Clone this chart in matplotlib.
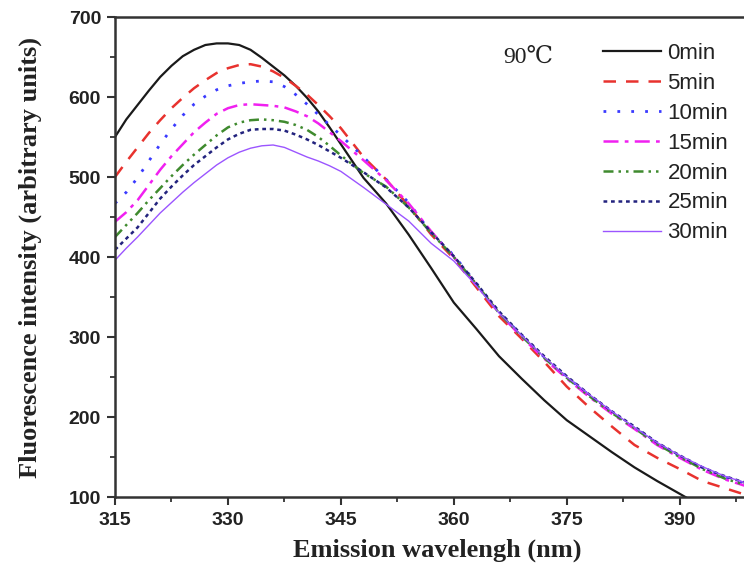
import matplotlib
matplotlib.use("Agg")
import matplotlib.pyplot as plt
from matplotlib.ticker import MultipleLocator

wavelength = [315, 316.5, 318, 319.5, 321, 322.5, 324, 325.5, 327, 328.5, 330, 331.5,
              333, 334.5, 336, 337.5, 339, 340.5, 342, 343.5, 345,
              348, 351, 354, 357, 360, 363, 366, 369, 372, 375, 378, 381, 384, 387,
              390, 393, 396, 399]

min0 = [550, 572, 590, 608, 625, 639, 651, 659, 665, 667, 667, 665,
        659, 649, 638, 627, 614, 599, 582, 562, 541,
        499, 467, 428, 386, 343, 310, 276, 248, 221, 196, 176, 156, 137, 120,
        104, 88, 74, 60]
min5 = [500, 519, 537, 555, 571, 586, 599, 611, 621, 630, 636, 640,
        641, 638, 632, 624, 614, 603, 590, 576, 561,
        525, 497, 464, 428, 398, 362, 326, 298, 269, 238, 212, 188, 165, 149,
        135, 120, 111, 102]
min10 = [467, 481, 499, 520, 541, 560, 577, 591, 601, 609, 614, 617,
         619, 620, 619, 613, 603, 591, 578, 565, 552,
         525, 497, 468, 430, 402, 367, 331, 302, 275, 250, 227, 206, 187, 167,
         151, 137, 125, 116]
min15 = [444, 456, 471, 490, 509, 526, 541, 556, 568, 579, 586, 590,
         591, 590, 589, 587, 582, 576, 567, 556, 545,
         521, 496, 467, 432, 400, 365, 330, 300, 273, 248, 225, 204, 185, 165,
         149, 134, 122, 113]
min20 = [425, 440, 455, 471, 486, 501, 515, 528, 540, 552, 562, 568,
         571, 572, 571, 569, 565, 559, 550, 539, 527,
         505, 488, 462, 430, 400, 366, 330, 301, 274, 249, 226, 205, 186, 166,
         150, 135, 123, 114]
min25 = [409, 423, 437, 455, 473, 488, 502, 515, 526, 537, 547, 554,
         559, 560, 560, 558, 553, 547, 540, 532, 524,
         506, 487, 462, 431, 401, 367, 332, 303, 276, 251, 228, 207, 188, 168,
         152, 137, 126, 117]
min30 = [396, 411, 425, 440, 455, 468, 481, 493, 504, 515, 524, 531,
         536, 539, 540, 537, 531, 525, 520, 514, 507,
         487, 466, 445, 417, 395, 364, 330, 302, 275, 250, 228, 207, 187, 168,
         152, 138, 126, 117]

labels = ["0min", "5min", "10min", "15min", "20min", "25min", "30min"]
series = [min0, min5, min10, min15, min20, min25, min30]

styles = [
    dict(color="#1a1a1a", linestyle="-", linewidth=1.6),
    dict(color="#e8322e", linestyle=(0, (5, 4)), linewidth=1.8),
    dict(color="#3a3aff", linestyle=(0, (1, 4)), linewidth=2.0),
    dict(color="#f020f0", linestyle=(0, (6, 2.5, 1.5, 2.5)), linewidth=1.8),
    dict(color="#3f8a2e", linestyle=(0, (4, 2, 1, 2, 1, 2)), linewidth=1.8),
    dict(color="#23237e", linestyle=(0, (1.5, 1.5)), linewidth=1.8),
    dict(color="#9b55ff", linestyle="-", linewidth=1.0),
]

fig = plt.figure(figsize=(7.44, 5.66), dpi=100)
W, H = 744, 566
ax = fig.add_axes([115 / W, (H - 497) / H, 640 / W, 480 / H])

for y, lab, st in zip(series, labels, styles):
    ax.plot(wavelength, y, label=lab, **st)

ax.set_xlim(315, 400)
ax.set_ylim(100, 700)
ax.xaxis.set_major_locator(MultipleLocator(15))
ax.xaxis.set_minor_locator(MultipleLocator(7.5))
ax.yaxis.set_major_locator(MultipleLocator(100))
ax.yaxis.set_minor_locator(MultipleLocator(50))

for s in ax.spines.values():
    s.set_linewidth(1.8)
    s.set_color("#333333")
ax.spines["right"].set_visible(False)

ax.tick_params(which="major", direction="out", length=6, width=1.5, color="#333333")
ax.tick_params(which="minor", direction="out", length=3.5, width=1.3, color="#333333")
for lab in ax.get_xticklabels() + ax.get_yticklabels():
    lab.set_fontfamily("Liberation Sans")
    lab.set_fontweight("bold")
    lab.set_fontsize(14)
    lab.set_color("#222222")
ax.tick_params(axis="x", pad=5)
ax.tick_params(axis="y", pad=4)

ax.set_xlabel("Emission wavelengh (nm)", fontfamily="Liberation Serif",
              fontweight="bold", fontsize=19, color="#222222")
ax.set_ylabel("Fluorescence intensity (arbitrary units)", fontfamily="Liberation Serif",
              fontweight="bold", fontsize=19, color="#222222")
ax.xaxis.label.set_va("center")
ax.yaxis.label.set_va("center")
ax.xaxis.set_label_coords((437 - 115) / 640, (497 - 550) / 480)
ax.yaxis.set_label_coords((30 - 115) / 640, 0.5)

leg = ax.legend(loc="upper left", bbox_to_anchor=(603 / W, 1 - 43 / H),
                bbox_transform=fig.transFigure, frameon=False, borderpad=0,
                borderaxespad=0, handlelength=2.6, handletextpad=0.3,
                labelspacing=0.4, prop={"family": "Liberation Sans", "size": 16})
for t in leg.get_texts():
    t.set_color("#222222")

fig.text(503 / W, 1 - 57 / H, "90\u2103", family=["Liberation Serif", "DejaVu Serif"],
         fontsize=17, va="center", ha="left", color="#222222")

fig.savefig("out.png", dpi=100)
